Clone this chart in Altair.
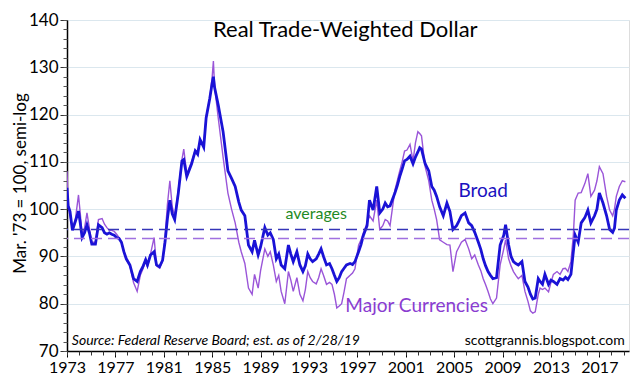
import altair as alt
import pandas as pd

# ---- data (decimal years, index Mar '73 = 100) ----
years = [
    1973.0, 1973.1, 1973.25, 1973.45, 1973.7, 1973.95, 1974.1, 1974.25, 1974.45, 1974.65,
    1974.85, 1975.05, 1975.35, 1975.6, 1975.9, 1976.1, 1976.3, 1976.5, 1976.7, 1976.9,
    1977.1, 1977.3, 1977.5, 1977.7, 1977.9, 1978.2, 1978.5, 1978.8, 1979.06, 1979.3,
    1979.5, 1979.65, 1979.9, 1980.2, 1980.4, 1980.65, 1980.9, 1981.1, 1981.3, 1981.5,
    1981.7, 1981.9, 1982.2, 1982.5, 1982.65, 1982.9, 1983.3, 1983.6, 1983.8, 1984.0,
    1984.3, 1984.5, 1984.8, 1985.0, 1985.1, 1985.2, 1985.5, 1985.9, 1986.3, 1986.6,
    1986.9, 1987.2, 1987.4, 1987.7, 1988.0, 1988.3, 1988.5, 1988.8, 1989.0, 1989.35,
    1989.6, 1989.8, 1990.05, 1990.3, 1990.5, 1990.7, 1991.0, 1991.3, 1991.5, 1991.7,
    1992.0, 1992.25, 1992.5, 1992.7, 1992.9, 1993.1, 1993.3, 1993.6, 1993.8, 1994.0,
    1994.2, 1994.45, 1994.7, 1994.9, 1995.1, 1995.3, 1995.5, 1995.7, 1995.9, 1996.1,
    1996.4, 1996.6, 1996.8, 1997.1, 1997.3, 1997.5, 1997.8, 1998.0, 1998.3, 1998.6,
    1998.85, 1999.1, 1999.3, 1999.5, 1999.7, 2000.1, 2000.3, 2000.5, 2000.7, 2000.9,
    2001.1, 2001.35, 2001.6, 2001.8, 2002.0, 2002.15, 2002.3, 2002.6, 2002.9, 2003.15,
    2003.35, 2003.55, 2003.8, 2004.1, 2004.4, 2004.65, 2004.9, 2005.2, 2005.4, 2005.6,
    2005.9, 2006.2, 2006.45, 2006.7, 2007.0, 2007.2, 2007.4, 2007.6, 2007.8, 2008.0,
    2008.2, 2008.5, 2008.8, 2009.1, 2009.25, 2009.5, 2009.7, 2009.9, 2010.1, 2010.3,
    2010.6, 2010.85, 2011.1, 2011.3, 2011.5, 2011.7, 2011.95, 2012.1, 2012.3, 2012.5,
    2012.8, 2013.0, 2013.2, 2013.5, 2013.75, 2014.0, 2014.2, 2014.4, 2014.65, 2014.85,
    2015.0, 2015.25, 2015.5, 2015.8, 2016.05, 2016.3, 2016.6, 2016.8, 2017.0, 2017.3,
    2017.6, 2017.85, 2018.1, 2018.25, 2018.4, 2018.65, 2018.9, 2019.15,
]
broad = [
    104.5, 100.7, 99.5, 95.5, 97.5, 99.6, 97.0, 94.0, 95.0, 96.7,
    95.0, 92.6, 92.6, 96.7, 96.1, 95.0, 94.7, 95.0, 94.7, 94.5,
    94.0, 93.8, 93.0, 91.0, 89.5, 88.2, 85.3, 84.7, 86.8, 88.0,
    89.3, 88.2, 90.3, 91.0, 88.2, 87.8, 89.2, 93.0, 98.0, 101.9,
    99.0, 97.8, 103.4, 110.2, 110.5, 106.9, 109.6, 112.3, 111.6, 114.7,
    113.1, 119.3, 123.4, 126.7, 128.0, 125.7, 122.0, 116.4, 108.1, 106.5,
    104.8, 101.5, 99.8, 98.6, 92.4, 91.0, 93.4, 90.3, 92.0, 96.1,
    94.5, 95.0, 93.6, 89.5, 90.5, 88.2, 87.4, 92.4, 90.5, 88.9,
    91.0, 88.2, 86.8, 88.0, 90.5, 89.5, 88.9, 89.5, 90.5, 91.6,
    90.0, 88.2, 88.5, 87.4, 86.0, 84.7, 85.5, 86.8, 87.5, 88.2,
    88.5, 88.3, 88.9, 91.0, 92.5, 94.5, 96.5, 101.9, 99.8, 104.8,
    99.2, 100.0, 101.3, 100.5, 100.7, 103.4, 105.0, 106.9, 108.5, 110.2,
    110.5, 111.2, 109.6, 111.0, 112.1, 113.0, 112.7, 109.6, 108.1, 104.8,
    104.0, 102.7, 100.5, 98.6, 101.3, 99.5, 95.7, 96.5, 97.5, 98.6,
    99.2, 97.1, 96.5, 95.1, 93.0, 91.5, 89.5, 88.0, 86.8, 86.0,
    85.3, 85.5, 92.4, 94.5, 96.7, 92.4, 90.0, 88.9, 88.5, 88.2,
    88.9, 84.7, 83.5, 82.0, 81.0, 81.2, 85.3, 84.7, 84.1, 86.2,
    84.1, 85.0, 84.7, 84.1, 85.3, 85.0, 85.6, 85.1, 86.2, 91.0,
    94.5, 93.0, 97.1, 98.2, 99.8, 97.1, 98.6, 100.0, 103.4, 101.3,
    98.6, 95.7, 95.1, 96.0, 99.8, 101.9, 103.0, 102.3,
]
major = [
    108.0, 100.5, 98.5, 95.8, 98.0, 103.0, 99.0, 94.5, 96.0, 99.2,
    96.0, 93.0, 93.0, 97.8, 98.0, 96.8, 96.1, 95.5, 95.5, 95.3,
    94.7, 94.0, 93.0, 91.0, 89.3, 88.0, 84.5, 82.6, 86.0, 87.5,
    89.5, 87.8, 90.5, 94.0, 88.0, 87.5, 89.0, 94.0, 101.0, 106.0,
    100.5, 98.5, 104.0, 110.5, 112.7, 107.5, 110.0, 112.5, 112.2, 114.5,
    113.5, 119.5, 123.5, 128.0, 131.3, 126.0, 119.3, 111.0, 103.4, 100.0,
    97.1, 93.0, 91.0, 88.5, 83.3, 82.0, 86.2, 83.3, 87.0, 91.6,
    90.0, 91.0, 88.2, 84.7, 86.0, 82.6, 80.0, 86.8, 85.0, 82.6,
    85.5, 82.0, 80.6, 83.0, 86.8, 85.5, 84.7, 84.2, 85.5, 87.4,
    86.0, 84.1, 84.5, 84.1, 82.0, 79.1, 79.5, 80.0, 82.5, 85.3,
    86.0, 86.5, 87.4, 92.4, 93.5, 95.0, 97.0, 98.6, 97.5, 101.9,
    95.7, 96.5, 97.8, 97.5, 96.5, 104.0, 106.0, 108.1, 110.0, 112.3,
    112.5, 113.7, 110.2, 114.0, 116.4, 116.0, 115.5, 109.0, 106.0, 101.9,
    100.0, 97.8, 93.5, 93.0, 92.5, 92.4, 86.8, 91.0, 92.0, 93.0,
    93.6, 91.6, 89.5, 90.3, 88.2, 87.0, 85.3, 84.0, 82.6, 81.0,
    80.0, 81.2, 88.2, 91.6, 93.5, 89.5, 88.0, 86.8, 86.0, 85.3,
    86.0, 82.6, 80.5, 78.5, 78.0, 78.3, 82.0, 83.3, 83.0, 83.3,
    82.5, 84.5, 86.2, 86.8, 86.2, 87.4, 87.5, 86.8, 88.9, 94.5,
    101.9, 103.4, 103.5, 105.4, 107.5, 102.7, 104.0, 106.0, 109.0, 107.5,
    102.7, 99.8, 98.6, 100.0, 102.7, 104.8, 106.0, 105.8,
]
avg_names = ["Broad", "Major Currencies"]
avg_values = [95.7, 93.8]

major_ticks_y = [70, 80, 90, 100, 110, 120, 130, 140]
minor_ticks_y = list(range(70, 141, 2))
major_ticks_x = [1973, 1977, 1981, 1985, 1989, 1993, 1997, 2001, 2005, 2009, 2013, 2017]
minor_ticks_x = list(range(1973, 2020))

chart_title = "Real Trade-Weighted Dollar"
y_title = "Mar. '73 = 100, semi-log"
source_note = "Source: Federal Reserve Board; est. as of 2/28/19"
site_note = "scottgrannis.blogspot.com"

# annotation anchors in data units
ann = {
    "title": (1996.0, 136.3),
    "averages": (1993.6, 98.0),
    "broad": (2007.4, 102.5),
    "major": (2001.9, 78.3),
    "source": (1973.4, 71.3),
    "site": (2019.1, 71.3),
}

FONT = "Lato"
BLUE = "#1a12d6"
PURPLE = "#9a55d8"

df = pd.DataFrame({"year": years, "broad": broad, "major": major})
avg_df = pd.DataFrame({"name": avg_names, "value": avg_values})

xs = alt.Scale(domain=[1973, 2019.45], nice=False, zero=False)
ys = alt.Scale(domain=[70, 140], nice=False, zero=False)

x_major = alt.Axis(values=major_ticks_x, format="d", title=None, grid=False,
                   labelFontSize=16, labelFont=FONT, labelColor="black",
                   tickSize=6, tickColor="black", domainColor="black", domainWidth=1.5,
                   labelPadding=2, orient="bottom", labelFlush=False)
y_major = alt.Axis(values=major_ticks_y, title=y_title, grid=True, gridColor="#dbe7ee",
                   gridWidth=1.2, labelFontSize=17, labelFont=FONT, labelColor="black",
                   tickSize=7, tickColor="#333", domainColor="black", domainWidth=1.5,
                   labelPadding=2, titleFont=FONT, titleFontSize=17, titleFontWeight="normal",
                   titleColor="black", titleX=-38, titleY=163, orient="left")
x_minor = alt.Axis(values=minor_ticks_x, labels=False, title=None, grid=False, domain=False,
                   tickSize=4, tickColor="#333", orient="bottom")
y_minor = alt.Axis(values=minor_ticks_y, labels=False, title=None, grid=False, domain=False,
                   tickSize=4, tickColor="#555", orient="left")

major_line = alt.Chart(df).mark_line(color=PURPLE, strokeWidth=1.4, clip=True).encode(
    x=alt.X("year:Q", scale=xs, axis=x_major),
    y=alt.Y("major:Q", scale=ys, axis=y_major),
)
broad_line = alt.Chart(df).mark_line(color=BLUE, strokeWidth=2.8, clip=True).encode(
    x=alt.X("year:Q", scale=xs, axis=x_minor),
    y=alt.Y("broad:Q", scale=ys, axis=y_minor),
)
avg_rules = alt.Chart(avg_df).mark_rule(strokeDash=[11, 6], strokeWidth=1.5).encode(
    y=alt.Y("value:Q", scale=ys, axis=None),
    color=alt.Color("name:N", scale=alt.Scale(domain=avg_names, range=["#3535b8", "#a070e0"]),
                    legend=None),
)


def label(key, text, size, color, align="center", style="normal"):
    x, y = ann[key]
    d = pd.DataFrame({"x": [x], "y": [y], "t": [text]})
    return alt.Chart(d).mark_text(font=FONT, fontSize=size, color=color, align=align,
                                  baseline="alphabetic", fontStyle=style).encode(
        x=alt.X("x:Q", scale=xs, axis=None),
        y=alt.Y("y:Q", scale=ys, axis=None),
        text="t:N",
    )


texts = [
    label("title", chart_title, 22, "black"),
    label("averages", "averages", 16, "#1f8a25"),
    label("broad", "Broad", 19, "#1a12c0"),
    label("major", "Major Currencies", 19, "#8a3cd0"),
    label("source", source_note, 14, "black", align="left", style="italic"),
    label("site", site_note, 14, "black", align="right"),
]

chart = alt.layer(major_line, broad_line, avg_rules, *texts).resolve_axis(
    x="independent", y="independent"
).properties(
    width=562, height=331,
    padding={"left": 59, "top": 12, "right": 3, "bottom": 23},
    autosize=alt.AutoSizeParams(type="none"),
).configure_view(stroke="#8a8a8a", strokeWidth=1.5).configure(background="white")

chart.save("out.html", embed_options={"renderer": "svg", "actions": False})
